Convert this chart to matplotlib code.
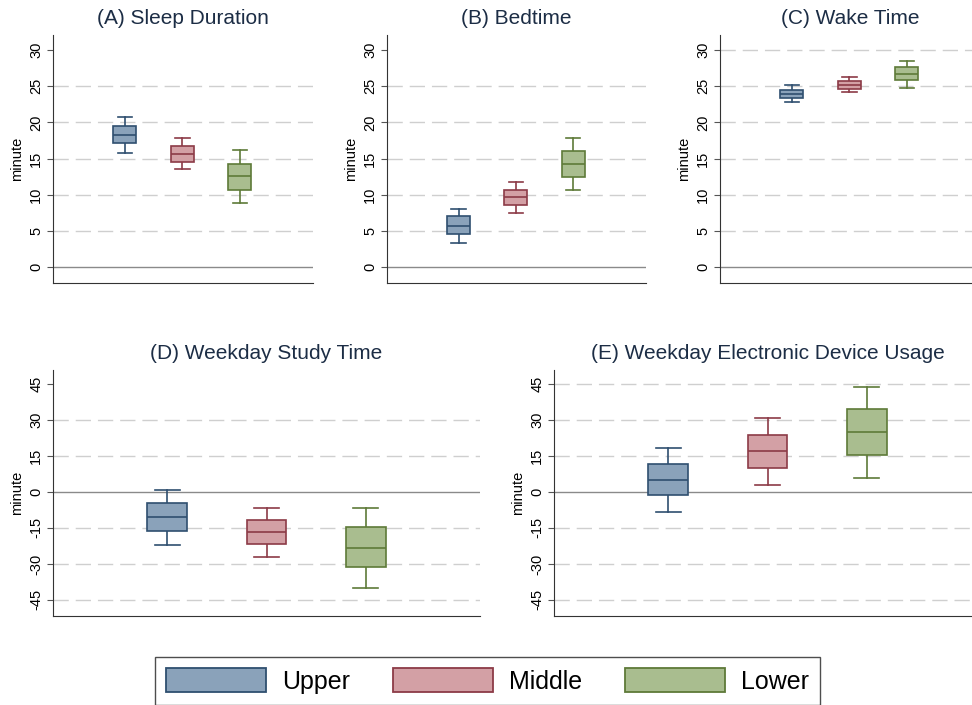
import matplotlib
matplotlib.use('Agg')
import matplotlib.pyplot as plt
from matplotlib.patches import Patch

plt.rcParams['font.family'] = ['Liberation Sans', 'DejaVu Sans']

groups = ['Upper', 'Middle', 'Lower']
fills = ['#8aa2ba', '#d3a0a5', '#a9bd8f']
edges = ['#2f4f6f', '#8c3b47', '#5e7a38']

titles = ['(A) Sleep Duration', '(B) Bedtime', '(C) Wake Time',
          '(D) Weekday Study Time', '(E) Weekday Electronic Device Usage']

# box stats per panel: (whislo, q1, med, q3, whishi) for Upper, Middle, Lower
sleep_duration = [(15.8, 17.1, 18.3, 19.5, 20.7),
                  (13.5, 14.6, 15.6, 16.75, 17.8),
                  (8.9, 10.7, 12.55, 14.3, 16.15)]
bedtime = [(3.4, 4.6, 5.7, 7.0, 8.0),
           (7.5, 8.6, 9.65, 10.65, 11.7),
           (10.6, 12.4, 14.2, 16.1, 17.9)]
wake_time = [(22.8, 23.4, 23.95, 24.55, 25.15),
             (24.15, 24.7, 25.25, 25.75, 26.35),
             (24.8, 25.9, 26.7, 27.7, 28.5)]
study_time = [(-22.2, -16.1, -10.4, -4.6, 0.8),
              (-27.1, -21.7, -16.5, -11.7, -6.7),
              (-40.0, -31.4, -23.2, -14.7, -6.7)]
device_usage = [(-8.2, -1.4, 5.0, 11.8, 18.3),
                (2.8, 10.1, 16.9, 23.9, 30.6),
                (5.7, 15.3, 24.9, 34.6, 43.6)]

panel_data = [sleep_duration, bedtime, wake_time, study_time, device_usage]

top_ticks = [0, 5, 10, 15, 20, 25, 30]
bottom_ticks = [-45, -30, -15, 0, 15, 30, 45]
panel_ticks = [top_ticks] * 3 + [bottom_ticks] * 2
panel_grid = [[5, 10, 15, 20, 25], [5, 10, 15, 20, 25], [5, 10, 15, 20, 25, 30],
              [-45, -30, -15, 15, 30], [-45, -30, -15, 15, 30, 45]]

W, H = 972, 705
fig = plt.figure(figsize=(W / 100, H / 100), dpi=100)

# axes boxes in pixels: left, right, top, bottom
boxes = [(53, 313, 35, 283), (387, 646, 35, 283), (720, 980, 35, 283),
         (53, 480, 370, 616), (554, 981, 370, 616)]
xlims = [(-0.25, 4.27)] * 3 + [(-0.15, 4.15)] * 2
ylims = [(-2.2, 32.1)] * 3 + [(-51.7, 50.8)] * 2

for i, (l, r, t, b) in enumerate(boxes):
    ax = fig.add_axes([l / W, (H - b) / H, (r - l) / W, (b - t) / H])
    ax.set_xlim(*xlims[i])
    ax.set_ylim(*ylims[i])

    for g in panel_grid[i]:
        ax.axhline(g, color='#cfcfcf', lw=1.0, dashes=(11, 5), zorder=0)
    ax.axhline(0, color='#8a8a8a', lw=1.0, zorder=0)

    stats = []
    for grp, v in zip(groups, panel_data[i]):
        stats.append(dict(label=grp, whislo=v[0], q1=v[1], med=v[2], q3=v[3], whishi=v[4]))
    bp = ax.bxp(stats, positions=[1, 2, 3], widths=0.4, capwidths=0.25,
                showfliers=False, patch_artist=True, manage_ticks=False)
    for k in range(3):
        bp['boxes'][k].set(facecolor=fills[k], edgecolor=edges[k], linewidth=1.2, zorder=3)
        bp['medians'][k].set(color=edges[k], linewidth=1.2, zorder=4)
        for ln in bp['whiskers'][2 * k:2 * k + 2] + bp['caps'][2 * k:2 * k + 2]:
            ln.set(color=edges[k], linewidth=1.2)

    for side in ['top', 'right']:
        ax.spines[side].set_visible(False)
    ax.spines['left'].set_color('#333333')
    ax.spines['bottom'].set_color('#333333')
    ax.set_xticks([])
    ax.set_yticks(panel_ticks[i])
    ax.set_yticklabels([str(v) for v in panel_ticks[i]], rotation=90, va='center')
    ax.tick_params(axis='y', length=4, width=0.8, color='#555555', labelsize=10.5, pad=3)
    ax.set_ylabel('minute', fontsize=10.5, labelpad=4)
    ax.set_title(titles[i], fontsize=15, color='#1c2d45', pad=8)

handles = [Patch(facecolor=f, edgecolor=e, linewidth=1.3) for f, e in zip(fills, edges)]
fig.legend(handles, groups, loc='upper left', bbox_to_anchor=(155 / W, (H - 657) / H),
           ncol=3, fontsize=18, frameon=True, fancybox=False, edgecolor='#222222',
           handlelength=4.0, handleheight=1.1, columnspacing=1.7, handletextpad=0.65,
           borderpad=0.45, borderaxespad=0)

fig.savefig('out.png', dpi=100)
